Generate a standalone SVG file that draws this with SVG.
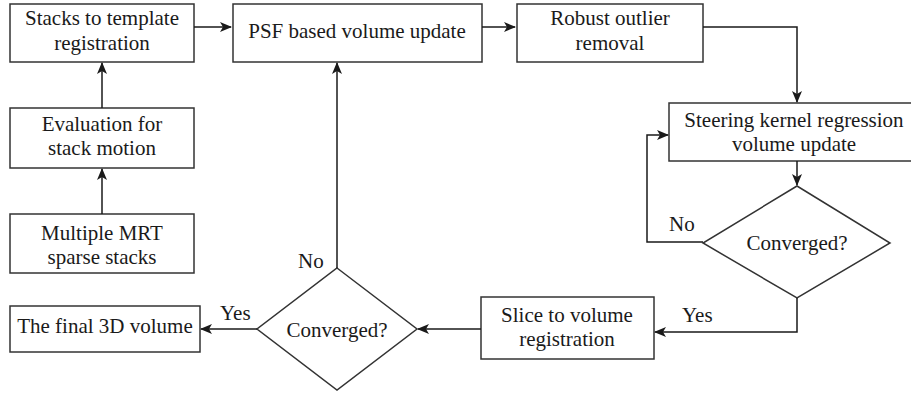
<svg xmlns="http://www.w3.org/2000/svg" width="911" height="394" viewBox="0 0 911 394">
<defs>
<marker id="ah" markerWidth="12" markerHeight="10" refX="11" refY="5" orient="auto" markerUnits="userSpaceOnUse">
<path d="M0,0 L12,5 L0,10 L3,5 Z" fill="#1a1a1a"/>
</marker>
<style>
.box{fill:#fff;stroke:#333;stroke-width:1.5}
.t{font-family:"Liberation Serif","Times New Roman",serif;font-size:21px;fill:#1a1a1a;text-anchor:middle}
.l{font-family:"Liberation Serif","Times New Roman",serif;font-size:21px;fill:#1a1a1a}
.c{fill:none;stroke:#1a1a1a;stroke-width:1.5;marker-end:url(#ah)}
</style>
</defs>
<rect width="911" height="394" fill="#fff"/>
<g id="stacks"><rect class="box" x="10" y="4" width="184" height="58"/><text class="t" x="102" y="25">Stacks to template</text><text class="t" x="102" y="50">registration</text></g>
<g id="psf"><rect class="box" x="233" y="4" width="249" height="58"/><text class="t" x="357" y="38">PSF based volume update</text></g>
<g id="robust"><rect class="box" x="517" y="4" width="186" height="58"/><text class="t" x="610" y="25">Robust outlier</text><text class="t" x="610" y="50">removal</text></g>
<g id="eval"><rect class="box" x="10" y="108" width="184" height="60"/><text class="t" x="102" y="131">Evaluation for</text><text class="t" x="102" y="155">stack motion</text></g>
<g id="mrt"><rect class="box" x="10" y="214" width="184" height="59"/><text class="t" x="102" y="240">Multiple MRT</text><text class="t" x="102" y="264">sparse stacks</text></g>
<g id="steering"><rect class="box" x="669" y="103" width="260" height="58"/><text class="t" x="794" y="127">Steering kernel regression</text><text class="t" x="794" y="151">volume update</text></g>
<g id="conv2"><polygon class="box" points="797,186 890,243 797,298 703,243"/><text class="t" x="797" y="250">Converged?</text></g>
<g id="slice"><rect class="box" x="481" y="297" width="173" height="62"/><text class="t" x="567" y="322">Slice to volume</text><text class="t" x="567" y="346">registration</text></g>
<g id="conv1"><polygon class="box" points="337,268 417,329 337,390 257,329"/><text class="t" x="337" y="337">Converged?</text></g>
<g id="final"><rect class="box" x="10" y="306" width="190" height="46"/><text class="t" x="105" y="333">The final 3D volume</text></g>
<g id="connectors">
<path class="c" d="M194,27 L231,27"/>
<path class="c" d="M482,27 L515,27"/>
<path class="c" d="M703,27 L797,27 L797,102"/>
<path class="c" d="M797,161 L797,185"/>
<path class="c" d="M703,242 L647,242 L647,135 L668,135"/>
<path class="c" d="M797,298 L797,332 L655,332"/>
<path class="c" d="M481,329 L418,329"/>
<path class="c" d="M337,268 L337,63"/>
<path class="c" d="M257,329 L201,329"/>
<path class="c" d="M102,214 L102,169"/>
<path class="c" d="M102,108 L102,63"/>
<text class="l" x="669" y="231">No</text>
<text class="l" x="682" y="322">Yes</text>
<text class="l" x="298" y="268">No</text>
<text class="l" x="220" y="320">Yes</text>
</g>
</svg>
